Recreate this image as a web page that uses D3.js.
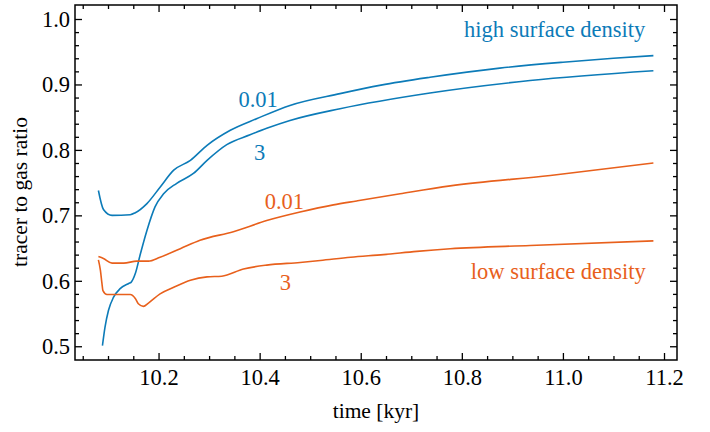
<!DOCTYPE html>
<html>
<head>
<meta charset="utf-8">
<script src="https://cdn.jsdelivr.net/npm/d3@7"></script>
<style>
  body { margin: 0; background: #fff; }
  svg text { font-family: "Liberation Serif", "DejaVu Serif", serif; }
</style>
</head>
<body>
<svg width="710" height="432"></svg>
<script>
// time [kyr] and tracer-to-gas ratio
const highT001 = [10.081, 10.091, 10.108, 10.144, 10.154, 10.177, 10.203, 10.230, 10.263, 10.296, 10.342, 10.395, 10.460, 10.559, 10.640, 10.737, 10.875, 11.000, 11.100, 11.179];
const highV001 = [0.738, 0.709, 0.700, 0.701, 0.704, 0.718, 0.743, 0.769, 0.784, 0.807, 0.830, 0.848, 0.868, 0.886, 0.899, 0.911, 0.925, 0.934, 0.940, 0.944];

const highT3 = [10.089, 10.094, 10.101, 10.111, 10.124, 10.141, 10.146, 10.154, 10.164, 10.177, 10.193, 10.210, 10.236, 10.269, 10.296, 10.335, 10.381, 10.414, 10.460, 10.559, 10.737, 10.935, 11.179];
const highV3 = [0.501, 0.529, 0.555, 0.575, 0.588, 0.596, 0.598, 0.611, 0.641, 0.677, 0.713, 0.733, 0.749, 0.764, 0.784, 0.808, 0.823, 0.833, 0.845, 0.863, 0.887, 0.906, 0.921];

const lowT001 = [10.081, 10.091, 10.108, 10.131, 10.157, 10.180, 10.203, 10.243, 10.282, 10.348, 10.414, 10.480, 10.546, 10.592, 10.678, 10.777, 10.975, 11.179];
const lowV001 = [0.637, 0.634, 0.627, 0.627, 0.630, 0.630, 0.636, 0.649, 0.662, 0.675, 0.692, 0.705, 0.716, 0.722, 0.733, 0.745, 0.761, 0.780];

const lowT3 = [10.081, 10.085, 10.088, 10.090, 10.098, 10.111, 10.144, 10.154, 10.160, 10.170, 10.180, 10.203, 10.230, 10.263, 10.296, 10.325, 10.368, 10.414, 10.480, 10.520, 10.580, 10.645, 10.711, 10.777, 10.935, 11.179];
const lowV3 = [0.632, 0.616, 0.596, 0.585, 0.579, 0.579, 0.579, 0.573, 0.565, 0.561, 0.566, 0.580, 0.590, 0.601, 0.606, 0.607, 0.618, 0.624, 0.628, 0.631, 0.636, 0.640, 0.645, 0.649, 0.654, 0.661];

const xTicks = [10.2, 10.4, 10.6, 10.8, 11.0, 11.2];
const yTicks = [0.5, 0.6, 0.7, 0.8, 0.9, 1.0];

const blue = "#0c7bb8";
const orange = "#e8601c";

const series = [
    {t: highT001, v: highV001, color: blue},
    {t: highT3, v: highV3, color: blue},
    {t: lowT001, v: lowV001, color: orange},
    {t: lowT3, v: lowV3, color: orange},
];

// curve labels, anchored in data units (baseline)
const notes = [
    {text: "0.01", t: 10.397, v: 0.866, color: blue, anchor: "middle"},
    {text: "3", t: 10.400, v: 0.785, color: blue, anchor: "middle"},
    {text: "0.01", t: 10.449, v: 0.710, color: orange, anchor: "middle"},
    {text: "3", t: 10.451, v: 0.586, color: orange, anchor: "middle"},
    {text: "high surface density", t: 11.163, v: 0.973, color: blue, anchor: "end"},
    {text: "low surface density", t: 11.164, v: 0.603, color: orange, anchor: "end"},
];

const mLeft = 75, mRight = 677, mTop = 5, mBottom = 360;
const fs = 22.5;

const x = d3.scaleLinear().domain([10.0347, 11.2257]).range([mLeft, mRight]);
const y = d3.scaleLinear().domain([0.479, 1.0214]).range([mBottom, mTop]);

const svg = d3.select("svg");

const xMinor = d3.range(10.05, 11.2251, 0.05).filter(d => !xTicks.some(m => Math.abs(m - d) < 1e-6));
const yMinor = d3.range(0.50, 1.0001, 0.02).filter(d => !yTicks.some(m => Math.abs(m - d) < 1e-6));

function drawAxis(axis, tx, ty, labels) {
    const g = svg.append("g").attr("transform", `translate(${tx},${ty})`).call(axis);
    g.attr("font-family", null).attr("font-size", null);
    g.select(".domain").remove();
    g.selectAll(".tick line").attr("stroke", "#000").attr("stroke-width", 1.3);
    g.selectAll(".tick text").attr("font-size", fs).attr("fill", "#000");
    if (!labels) g.selectAll(".tick text").remove();
    return g;
}

const fmt = d3.format(".1f");
drawAxis(d3.axisBottom(x).tickValues(xTicks).tickSize(-7).tickPadding(9).tickFormat(fmt), 0, mBottom, true);
drawAxis(d3.axisBottom(x).tickValues(xMinor).tickSize(-4).tickFormat(""), 0, mBottom, false);
drawAxis(d3.axisTop(x).tickValues(xTicks).tickSize(-7), 0, mTop, false);
drawAxis(d3.axisTop(x).tickValues(xMinor).tickSize(-4), 0, mTop, false);
drawAxis(d3.axisLeft(y).tickValues(yTicks).tickSize(-7).tickPadding(5).tickFormat(fmt), mLeft, 0, true);
drawAxis(d3.axisLeft(y).tickValues(yMinor).tickSize(-4).tickFormat(""), mLeft, 0, false);
drawAxis(d3.axisRight(y).tickValues(yTicks).tickSize(-7), mRight, 0, false);
drawAxis(d3.axisRight(y).tickValues(yMinor).tickSize(-4), mRight, 0, false);

const line = d3.line()
    .x(d => x(d[0]))
    .y(d => y(d[1]))
    .curve(d3.curveMonotoneX);

svg.append("g").selectAll("path")
    .data(series)
    .enter()
    .append("path")
    .attr("fill", "none")
    .attr("stroke", d => d.color)
    .attr("stroke-width", 1.6)
    .attr("d", d => line(d.t.map((t, i) => [t, d.v[i]])));

svg.append("g").selectAll("text")
    .data(notes)
    .enter()
    .append("text")
    .attr("x", d => x(d.t))
    .attr("y", d => y(d.v))
    .attr("text-anchor", d => d.anchor)
    .attr("fill", d => d.color)
    .attr("font-size", fs)
    .text(d => d.text);

// frame
svg.append("rect")
    .attr("x", mLeft).attr("y", mTop)
    .attr("width", mRight - mLeft).attr("height", mBottom - mTop)
    .attr("fill", "none").attr("stroke", "#000").attr("stroke-width", 1.5);

svg.append("text")
    .attr("x", (mLeft + mRight) / 2)
    .attr("y", 418)
    .attr("text-anchor", "middle")
    .attr("font-size", 21.5)
    .text("time [kyr]");

svg.append("text")
    .attr("transform", "translate(27,192) rotate(-90)")
    .attr("text-anchor", "middle")
    .attr("font-size", 21.5)
    .text("tracer to gas ratio");
</script>
</body>
</html>
